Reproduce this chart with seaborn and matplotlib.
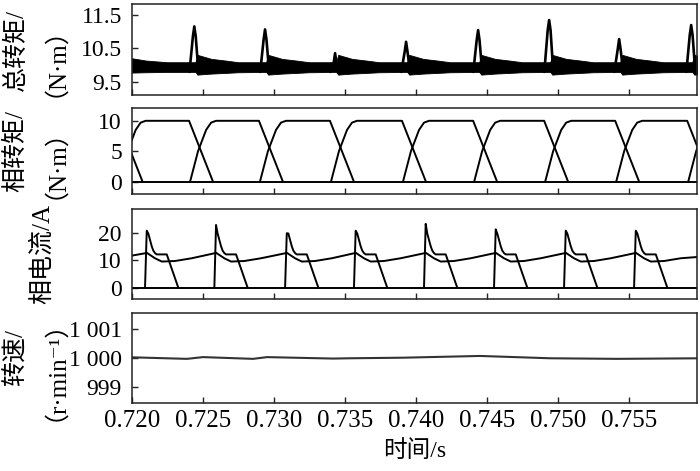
import numpy as np
import pandas as pd
import matplotlib
matplotlib.use("Agg")
import matplotlib.pyplot as plt
import seaborn as sns

# ---------------- data ----------------
# time axis
x_ticks = [0.720, 0.725, 0.730, 0.735, 0.740, 0.745, 0.750, 0.755]
x_tick_labels = ["0.720", "0.725", "0.730", "0.735", "0.740", "0.745", "0.750", "0.755"]

# panel 1: total torque (N*m) -- spikes at commutation + dense ripple band
tq_peak_t = [0.72441, 0.72939, 0.73432, 0.73932, 0.74439, 0.74939, 0.75432, 0.75939]
tq_peak_v = [11.16, 11.07, 10.36, 10.70, 11.05, 11.35, 10.78, 11.20]
band_dt = [0.00008, 0.00022, 0.00120, 0.00220, 0.00310]        # offsets from each spike
band_hi_v = [10.09, 10.31, 10.19, 10.14, 10.09]                  # upper edge of ripple band
band_lo_v = [9.80, 9.72, 9.75, 9.77, 9.79]                       # lower edge of ripple band
band_start_t = [0.7195, 0.7200, 0.7210, 0.7225]
band_start_hi = [10.22, 10.21, 10.14, 10.09]
band_start_lo = [9.77, 9.78, 9.79, 9.80]
spike_dt = [-0.00034, -0.00010, 0.0, 0.00010, 0.00030]
spike_rel = [9.80, -0.30, None, -0.30, 9.74]   # None = peak, negatives = below peak

# panel 2: phase torques (N*m)
comm_t = [0.71908, 0.72404, 0.72896, 0.73396, 0.73903, 0.74404, 0.74904, 0.75404, 0.75911]
rise_dt = [0.00007, 0.00063, 0.00120, 0.00155, 0.00190]
rise_v = [0.0, 5.0, 8.5, 9.7, 10.0]
fall_dt = [0.0, 0.00169]
fall_v = [10.0, 0.0]

# panel 3: phase currents (A)
on_t = [0.72094, 0.72582, 0.73080, 0.73565, 0.74058, 0.74551, 0.75044, 0.75537]
cur_peak = [20.8, 22.9, 19.9, 20.8, 23.3, 21.3, 20.8, 20.8]
pulse_dt = [0.0, 0.00012, 0.00023, 0.00035, 0.00047, 0.00058, 0.00070, 0.00082, 0.00153, 0.00235]
pulse_v = [0.0, None, 19.8, 17.5, 15.2, 13.6, 12.7, 12.2, 12.2, 0.0]
wave_dt = [0.0, 0.00012, 0.00070, 0.00118, 0.00211, 0.00329]
wave_v = [12.6, 12.8, 10.8, 9.6, 9.8, 10.8]
wave_start = (0.7195, 11.3)
wave_end = (0.7602, 11.4)

# panel 4: speed (r/min)
spd_t = [0.7195, 0.72389, 0.72502, 0.72854, 0.72953, 0.73418, 0.73537, 0.73911,
         0.74453, 0.74946, 0.75418, 0.7602]
spd_v = [1000.03, 999.97, 1000.03, 999.97, 1000.03, 999.98, 999.99, 1000.01,
         1000.07, 999.99, 999.97, 999.99]

XLIM = (0.720, 0.7598)

# ---------------- style ----------------
sns.set_theme(style="ticks")
plt.rcParams["font.family"] = ["Liberation Serif", "Noto Sans CJK SC", "DejaVu Serif"]
plt.rcParams["axes.unicode_minus"] = False
plt.rcParams["axes.linewidth"] = 1.1
plt.rcParams["axes.edgecolor"] = "#222222"

fig = plt.figure(figsize=(7.0, 4.71), dpi=100)
L, W = 0.1881, 0.8076
ax1 = fig.add_axes([L, 0.7983, W, 0.1932])
ax2 = fig.add_axes([L, 0.5881, W, 0.1826])
ax3 = fig.add_axes([L, 0.3652, W, 0.1911])
ax4 = fig.add_axes([L, 0.1444, W, 0.1911])
axes = [ax1, ax2, ax3, ax4]


def seg_frame(segments):
    rows = []
    for i, (ts, vs) in enumerate(segments):
        for t, v in zip(ts, vs):
            rows.append((t, v, i))
    return pd.DataFrame(rows, columns=["t", "v", "seg"])


def draw(ax, segments, lw=1.4, color="black"):
    df = seg_frame(segments)
    sns.lineplot(data=df, x="t", y="v", units="seg", estimator=None, sort=False,
                 color=color, lw=lw, ax=ax, legend=False)


# panel 1
bt, bh, bl = list(band_start_t), list(band_start_hi), list(band_start_lo)
for tp in tq_peak_t:
    for dt, h, l in zip(band_dt, band_hi_v, band_lo_v):
        bt.append(tp + dt); bh.append(h); bl.append(l)
order = np.argsort(bt)
ax1.fill_between(np.array(bt)[order], np.array(bl)[order], np.array(bh)[order],
                 color="black", lw=0.6, edgecolor="black")
spikes = []
for tp, vp in zip(tq_peak_t, tq_peak_v):
    vals = []
    for r in spike_rel:
        if r is None:
            vals.append(vp)
        elif r < 0:
            vals.append(max(vp + r, 10.05))
        else:
            vals.append(r)
    spikes.append(([tp + d for d in spike_dt], vals))
draw(ax1, spikes, lw=1.9)

# panel 2
segs = [([0.714] + [comm_t[0] + d for d in fall_dt], [10.0] + fall_v)]
for k in range(len(comm_t) - 1):
    ts = [comm_t[k] + d for d in rise_dt] + [comm_t[k + 1] + d for d in fall_dt]
    segs.append((ts, rise_v + fall_v))
segs.append(([comm_t[-1] + d for d in rise_dt] + [0.765], rise_v + [10.0]))
segs.append(([0.714, 0.765], [0.0, 0.0]))
draw(ax2, segs, lw=1.4)

# panel 3
segs = []
for t0, pk in zip(on_t, cur_peak):
    vals = [pk if v is None else v for v in pulse_v]
    segs.append(([t0 + d for d in pulse_dt], vals))
segs.append(([0.714, 0.765], [0.0, 0.0]))
wt, wv = [wave_start[0]], [wave_start[1]]
for t0 in on_t:
    for d, v in zip(wave_dt, wave_v):
        wt.append(t0 + d); wv.append(v)
wt.append(wave_end[0]); wv.append(wave_end[1])
segs.append((wt, wv))
draw(ax3, segs, lw=1.4)

# panel 4
draw(ax4, [(spd_t, spd_v)], lw=1.5, color="#333333")

# axes formatting
ylims = [(9.11, 11.83), (-2.0, 12.1), (-4.0, 28.7), (998.45, 1001.55)]
yticks = [[9.5, 10.5, 11.5], [0, 5, 10], [0, 10, 20], [999, 1000, 1001]]
ytl = [["9.5", "10.5", "11.5"], ["0", "5", "10"], ["0", "10", "20"],
       ["999", "1 000", "1 001"]]
ylabels = ["总转矩/\n（N·m）", "相转矩/\n（N·m）", "相电流/A", "转速/\n（r·min⁻¹）"]

for ax, yl, yt, ytlab, lab in zip(axes, ylims, yticks, ytl, ylabels):
    ax.set_xlim(*XLIM)
    ax.set_ylim(*yl)
    ax.set_yticks(yt)
    ax.set_yticklabels(ytlab)
    ax.set_xticks(x_ticks)
    ax.tick_params(axis="both", direction="in", length=4, width=1.0,
                   top=False, right=False, colors="#222222")
    ax.tick_params(axis="y", labelsize=17, pad=7, labelcolor="black")
    ax.tick_params(axis="x", labelsize=18, pad=5, labelcolor="black")
    ax.set_ylabel(lab, fontsize=18, linespacing=1.15, color="black")
    ax.yaxis.set_label_coords(-0.137, 0.5)
    ax.set_xlabel("")
    for s in ax.spines.values():
        s.set_visible(True)
    if ax is not ax4:
        ax.tick_params(axis="x", labelbottom=False)

ax4.set_xticklabels(x_tick_labels)
ax4.set_xlabel("时间/s", fontsize=17, labelpad=6, color="black")

fig.savefig("out.png", dpi=100)
